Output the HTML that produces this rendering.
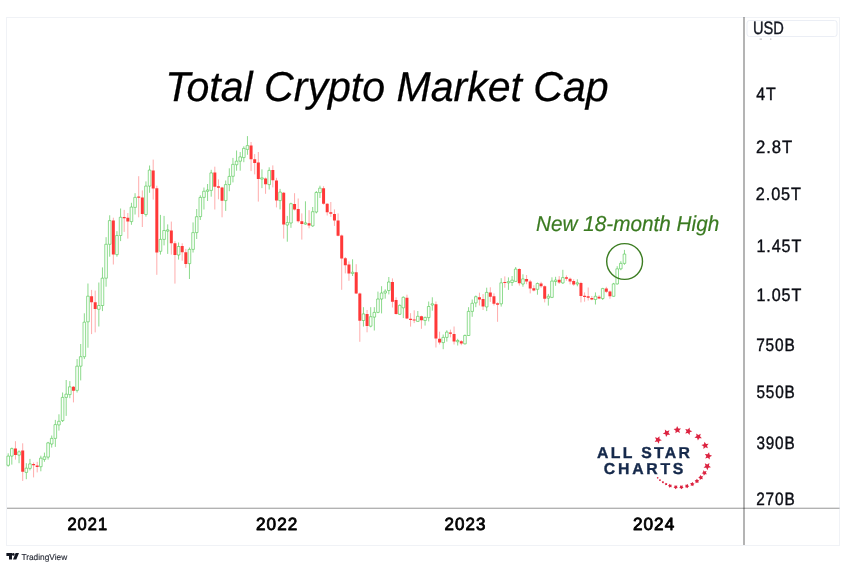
<!DOCTYPE html>
<html lang="en">
<head>
<meta charset="utf-8">
<title>Total Crypto Market Cap</title>
<style>
html,body{margin:0;padding:0;background:#fff;}
body{width:846px;height:568px;overflow:hidden;}
svg{display:block;}
text{font-family:"Liberation Sans",sans-serif;text-rendering:geometricPrecision;}
.title{font-style:italic;font-size:41.8px;fill:#000;stroke:#000;stroke-width:.25;}
.note{font-style:italic;font-size:21.6px;fill:#3a7a20;stroke:#3a7a20;stroke-width:.2;}
.yl{font-size:18px;fill:#0c0e15;stroke:#0c0e15;stroke-width:.4;letter-spacing:1px;}
.xl{font-size:17.7px;fill:#000;stroke:#000;stroke-width:.85;stroke-linejoin:round;letter-spacing:1.1px;}
.usd{font-size:18px;fill:#131722;stroke:#131722;stroke-width:.4;}
.tv{font-size:8.6px;fill:#2a2e39;stroke:#2a2e39;stroke-width:.15;}
.asc{font-size:15.8px;font-weight:bold;fill:#15294b;stroke:#15294b;stroke-width:.35;}
.gw{stroke:#3cc03c;stroke-width:.85;fill:none;opacity:.7;}
.gb{stroke:#3cc03c;stroke-width:.8;fill:#fbfffb;stroke-opacity:.7;}
.rw{stroke:#ff3232;stroke-width:.9;fill:none;opacity:.45;}
.rb{fill:#ff3838;}
.cd{filter:blur(.25px);}
</style>
</head>
<body>
<svg width="846" height="568" viewBox="0 0 846 568">
<rect width="846" height="568" fill="#fff"/>
<rect x="6.5" y="17.5" width="833" height="528" fill="#fff" stroke="#f0f2f6" stroke-width="1"/>

<g class="cd">
<path class="gw" d="M8.2 453.3V456.1M8.2 465.3V466.7M11.82 447.6V448.6M11.82 456.1V464.6M19.07 450.4V451.8M19.07 455.1V463.2M26.32 463.2V468.2M26.32 472.4V479.2M29.95 458.9V463.9M29.95 468.4V470.3M40.83 455.7V458.2M40.83 466.7V471.3M44.45 452.6V456.8M44.45 459.4V461.8M48.08 441.9V442.9M48.08 457.1V459.6M51.7 435.5V438.4M51.7 444V447.6M55.33 419.9V424.6M55.33 438.4V446.9M58.95 414.3V421.3M58.95 424.9V430.6M62.58 392.5V397.4M62.58 420.6V422M66.2 380V394.2M66.2 397.4V415.9M69.83 381.1V386.8M69.83 394.6V398.2M77.08 359.1V366.2M77.08 390.4V392.5M80.7 344V356.7M80.7 366.2V380.4M84.33 313.3V322.2M84.33 356.7V359.1M87.95 283.5V296.2M87.95 321.8V347.7M98.83 282.5V305.5M98.83 309.3V326.5M102.45 267.4V278.2M102.45 305.5V311.1M106.08 237.2V244.3M106.08 278.2V286.7M109.7 215.3V220.6M109.7 244.3V256.7M116.95 231.2V235.5M116.95 254.6V256.7M120.58 208.5V217.3M120.58 235.5V241.1M131.45 202.8V207.1M131.45 221.6V224.8M135.07 193.2V197.4M135.07 207.4V214.5M145.95 181.4V186.1M145.95 214.5V216.6M149.57 165.5V170.1M149.57 186.1V192.8M160.45 214.9V239.4M160.45 251.3V254.6M164.07 215.9V230.5M164.07 239.4V245.4M167.7 224.4V229.9M167.7 231.1V253.9M178.57 242.5V246.5M178.57 255V259.6M189.45 247.5V249.4M189.45 263.6V279M193.07 222.4V232.6M193.07 249.4V252.5M196.7 209V216.7M196.7 232.6V239M200.32 195.3V197.4M200.32 216.6V220M203.95 187.5V191.3M203.95 197.4V209.5M207.57 184V190M207.57 191.3V201M211.2 169.8V172.9M211.2 190.4V196.7M225.7 180.5V184.6M225.7 200.6V210.9M229.32 168.3V176.4M229.32 184.6V191.2M232.95 157.9V164.4M232.95 176.3V182.4M236.57 150.5V161.2M236.57 164.7V170.7M240.2 152V156.9M240.2 161.2V170.7M243.82 146.3V148.4M243.82 157.6V162.2M247.45 136.1V145.6M247.45 149.4V154.8M261.95 169.3V177.85M261.95 179.05V188.1M269.2 167.3V170.4M269.2 184.6V189.5M280.07 188.9V192.1M280.07 200.6V209.4M287.32 215.9V222.6M287.32 225V241.7M290.95 202.7V203.7M290.95 223V227.8M305.45 201.3V222.9M305.45 224.1V224.7M312.7 207V211.7M312.7 225.9V226.8M316.32 191V192.5M316.32 212V213.4M319.95 185.7V188.2M319.95 192.6V198M352.57 259.3V272.25M352.57 273.45V276M363.45 307.2V313.9M363.45 320.5V326.6M370.7 307.2V316.7M370.7 326.2V327.3M374.32 307.2V312.4M374.32 317.1V330.5M377.95 291.6V299M377.95 312.4V313.2M381.57 286.2V293M381.57 299V313.4M385.2 289.3V291.2M385.2 293V298.7M388.82 277V282M388.82 290.5V294.4M399.7 304.4V305.4M399.7 314.3V314.9M403.32 296.4V297.3M403.32 307.8V318.1M417.82 311V316.3M417.82 321.4V321.7M425.07 316.7V317.4M425.07 320.5V325.6M428.7 301.5V306.5M428.7 317.6V321.4M432.32 297.3V303.8M432.32 305V310.7M443.2 334.5V337.4M443.2 342.6V349.2M446.82 330.3V332.1M446.82 337.4V341.6M457.7 338.8V340.5M457.7 341.7V345.5M464.95 334.5V335.5M464.95 343.8V344.5M468.57 307.2V311.4M468.57 335.5V336M472.2 299.5V303.3M472.2 311.4V316.8M475.82 295.5V296.7M475.82 302.9V307.2M486.7 287.7V292.4M486.7 306.9V311.1M501.2 278.2V282.8M501.2 303.8V306.6M508.45 277.4V281.6M508.45 282.8V289.9M512.08 276V280.2M512.08 282.5V285.9M515.7 267V269.1M515.7 281.4V281.9M522.95 274.3V278.9M522.95 284V286.7M537.45 282.5V283.5M537.45 289.3V294.7M548.33 293.9V296.3M548.33 298.1V305.6M551.95 277.3V281.1M551.95 297.4V298.1M555.58 276.8V280.1M555.58 281.5V285.8M562.83 269.8V277.6M562.83 282.9V283.9M577.33 279.3V282.8M577.33 284V286.3M595.45 292.4V296.3M595.45 299.5V304.5M602.7 287.8V288.6M602.7 298.5V300M613.58 282.9V283.9M613.58 296.3V296.7M617.2 266.2V268.8M617.2 283.9V284.6M620.83 261.2V263.4M620.83 268.8V270.2M624.45 249.9V254.1M624.45 263.4V264.8"/>
<path class="gb" d="M6.9 456.1H9.5V465.3H6.9ZM10.52 448.6H13.12V456.1H10.52ZM17.77 451.8H20.38V455.1H17.77ZM25.02 468.2H27.62V472.4H25.02ZM28.65 463.9H31.25V468.4H28.65ZM39.53 458.2H42.12V466.7H39.53ZM43.15 456.8H45.75V459.4H43.15ZM46.78 442.9H49.38V457.1H46.78ZM50.4 438.4H53V444H50.4ZM54.03 424.6H56.62V438.4H54.03ZM57.65 421.3H60.25V424.9H57.65ZM61.28 397.4H63.88V420.6H61.28ZM64.9 394.2H67.5V397.4H64.9ZM68.53 386.8H71.12V394.6H68.53ZM75.78 366.2H78.38V390.4H75.78ZM79.4 356.7H82V366.2H79.4ZM83.03 322.2H85.62V356.7H83.03ZM86.65 296.2H89.25V321.8H86.65ZM97.53 305.5H100.12V309.3H97.53ZM101.15 278.2H103.75V305.5H101.15ZM104.78 244.3H107.38V278.2H104.78ZM108.4 220.6H111V244.3H108.4ZM115.65 235.5H118.25V254.6H115.65ZM119.28 217.3H121.88V235.5H119.28ZM130.15 207.1H132.75V221.6H130.15ZM133.77 197.4H136.38V207.4H133.77ZM144.65 186.1H147.25V214.5H144.65ZM148.27 170.1H150.88V186.1H148.27ZM159.15 239.4H161.75V251.3H159.15ZM162.77 230.5H165.38V239.4H162.77ZM166.4 229.9H169V231.1H166.4ZM177.27 246.5H179.88V255H177.27ZM188.15 249.4H190.75V263.6H188.15ZM191.77 232.6H194.38V249.4H191.77ZM195.4 216.7H198V232.6H195.4ZM199.02 197.4H201.62V216.6H199.02ZM202.65 191.3H205.25V197.4H202.65ZM206.27 190H208.88V191.3H206.27ZM209.9 172.9H212.5V190.4H209.9ZM224.4 184.6H227V200.6H224.4ZM228.02 176.4H230.62V184.6H228.02ZM231.65 164.4H234.25V176.3H231.65ZM235.27 161.2H237.88V164.7H235.27ZM238.9 156.9H241.5V161.2H238.9ZM242.52 148.4H245.12V157.6H242.52ZM246.15 145.6H248.75V149.4H246.15ZM260.65 177.85H263.25V179.05H260.65ZM267.9 170.4H270.5V184.6H267.9ZM278.77 192.1H281.38V200.6H278.77ZM286.02 222.6H288.62V225H286.02ZM289.65 203.7H292.25V223H289.65ZM304.15 222.9H306.75V224.1H304.15ZM311.4 211.7H314V225.9H311.4ZM315.02 192.5H317.62V212H315.02ZM318.65 188.2H321.25V192.6H318.65ZM351.27 272.25H353.88V273.45H351.27ZM362.15 313.9H364.75V320.5H362.15ZM369.4 316.7H372V326.2H369.4ZM373.02 312.4H375.62V317.1H373.02ZM376.65 299H379.25V312.4H376.65ZM380.27 293H382.88V299H380.27ZM383.9 291.2H386.5V293H383.9ZM387.52 282H390.12V290.5H387.52ZM398.4 305.4H401V314.3H398.4ZM402.02 297.3H404.62V307.8H402.02ZM416.52 316.3H419.12V321.4H416.52ZM423.77 317.4H426.38V320.5H423.77ZM427.4 306.5H430V317.6H427.4ZM431.02 303.8H433.62V305H431.02ZM441.9 337.4H444.5V342.6H441.9ZM445.52 332.1H448.12V337.4H445.52ZM456.4 340.5H459V341.7H456.4ZM463.65 335.5H466.25V343.8H463.65ZM467.27 311.4H469.88V335.5H467.27ZM470.9 303.3H473.5V311.4H470.9ZM474.52 296.7H477.12V302.9H474.52ZM485.4 292.4H488V306.9H485.4ZM499.9 282.8H502.5V303.8H499.9ZM507.15 281.6H509.75V282.8H507.15ZM510.78 280.2H513.38V282.5H510.78ZM514.4 269.1H517V281.4H514.4ZM521.65 278.9H524.25V284H521.65ZM536.15 283.5H538.75V289.3H536.15ZM547.03 296.3H549.62V298.1H547.03ZM550.65 281.1H553.25V297.4H550.65ZM554.28 280.1H556.88V281.5H554.28ZM561.53 277.6H564.12V282.9H561.53ZM576.03 282.8H578.62V284H576.03ZM594.15 296.3H596.75V299.5H594.15ZM601.4 288.6H604V298.5H601.4ZM612.28 283.9H614.88V296.3H612.28ZM615.9 268.8H618.5V283.9H615.9ZM619.53 263.4H622.12V268.8H619.53ZM623.15 254.1H625.75V263.4H623.15Z"/>
<path class="rw" d="M15.45 441.2V459.6M22.7 443.3V480.9M33.58 462.5V477.4M37.2 461.8V472.4M73.45 386V402.4M91.58 289.9V334.1M95.2 290.6V332.4M113.33 217.7V264.5M124.2 209.9V231.9M127.83 213V238.6M138.7 176.2V217.3M142.32 190.4V227M153.2 159.6V199.6M156.82 185.7V274.8M171.32 221.6V254.6M174.95 241.1V283.6M182.2 243.3V260.7M185.82 248.9V267.8M214.82 166.7V209.5M218.45 179.4V199.3M222.07 186.8V217.3M251.07 142V171.1M254.7 154.1V174.4M258.32 152V201.6M265.57 177.5V193.8M272.82 165.4V187.4M276.45 177.8V207.4M283.7 192V238.6M294.57 193.2V210.5M298.2 198.5V222.6M301.82 213.4V239.6M309.07 210.2V228.3M323.57 186.2V204.6M327.2 203.2V215.5M330.82 202V216.9M334.45 209.4V225.9M338.07 213.4V236.3M341.7 234.6V289.8M345.32 257V273.4M348.95 261.4V280.8M356.2 264.2V294M359.82 292.6V341.8M367.07 310V332.3M392.45 278.4V307.5M396.07 297.3V314.6M406.95 294.7V319.1M410.57 313.2V326.6M414.2 310.3V323.1M421.45 315.7V328.8M435.95 301.5V347.5M439.57 331.7V344.5M450.45 329.6V337.4M454.07 326.5V344.5M461.32 340.2V345.2M479.45 292.7V305.5M483.07 294.1V310M490.32 287.3V301.9M493.95 293.4V305.5M497.57 302.3V321.8M504.82 276.4V287.7M519.33 268.3V285.6M526.58 275V284.2M530.2 279.9V293.4M533.83 285.3V291.3M541.08 281.8V287.8M544.7 285.4V302.4M559.2 276.1V283.9M566.45 275.4V280.7M570.08 277.6V284.4M573.7 279.3V285.8M580.95 281.8V302.4M584.58 292.4V301.7M588.2 287.5V300.5M591.83 296V300.2M599.08 295.3V299.1M606.33 286.8V292.9M609.95 290.6V298.8"/>
<path class="rb" d="M13.95 448.6H16.95V455.1H13.95ZM21.2 450.4H24.2V471.7H21.2ZM32.08 463.9H35.08V465.3H32.08ZM35.7 465.6H38.7V467H35.7ZM71.95 386.8H74.95V390.8H71.95ZM90.08 296.2H93.08V302.3H90.08ZM93.7 302.3H96.7V309H93.7ZM111.83 220.6H114.83V254.6H111.83ZM122.7 217H125.7V218.2H122.7ZM126.33 217.7H129.32V221.6H126.33ZM137.2 196.6H140.2V197.8H137.2ZM140.82 197.4H143.82V214H140.82ZM151.7 170.5H154.7V188.5H151.7ZM155.32 188.2H158.32V252.6H155.32ZM169.82 230.5H172.82V243.3H169.82ZM173.45 243.3H176.45V255H173.45ZM180.7 246.1H183.7V252.2H180.7ZM184.32 252.2H187.32V264.1H184.32ZM213.32 172.6H216.32V186.8H213.32ZM216.95 186.2H219.95V187.7H216.95ZM220.57 187.5H223.57V200.8H220.57ZM249.57 145.6H252.57V159.3H249.57ZM253.2 159.3H256.2V163H253.2ZM256.82 162.6H259.82V178.9H256.82ZM264.07 178.6H267.07V184.3H264.07ZM271.32 170.1H274.32V180.3H271.32ZM274.95 180.6H277.95V200.6H274.95ZM282.2 192.8H285.2V224.4H282.2ZM293.07 204.1H296.07V209.4H293.07ZM296.7 209.1H299.7V221.2H296.7ZM300.32 221.2H303.32V224H300.32ZM307.57 223.3H310.57V225.4H307.57ZM322.07 188.2H325.07V203.7H322.07ZM325.7 203.7H328.7V212.2H325.7ZM329.32 212.2H332.32V213.7H329.32ZM332.95 214.1H335.95V220.5H332.95ZM336.57 220.5H339.57V235.8H336.57ZM340.2 235.4H343.2V258.5H340.2ZM343.82 258.3H346.82V265.2H343.82ZM347.45 264.6H350.45V273.4H347.45ZM354.7 272.3H357.7V293.6H354.7ZM358.32 293.6H361.32V320.8H358.32ZM365.57 313.9H368.57V325.9H365.57ZM390.95 282H393.95V301.8H390.95ZM394.57 300.1H397.57V313.9H394.57ZM405.45 297.8H408.45V318.5H405.45ZM409.07 318.8H412.07V320H409.07ZM412.7 319.4H415.7V320.6H412.7ZM419.95 316.3H422.95V320.2H419.95ZM434.45 304.3H437.45V338.4H434.45ZM438.07 338.8H441.07V342.6H438.07ZM448.95 332.4H451.95V333.8H448.95ZM452.57 334.1H455.57V341.6H452.57ZM459.82 341.2H462.82V343.5H459.82ZM477.95 297.2H480.95V299.5H477.95ZM481.57 299.1H484.57V306.6H481.57ZM488.82 292.4H491.82V296.7H488.82ZM492.45 296.2H495.45V303.8H492.45ZM496.07 303.3H499.07V304.8H496.07ZM503.32 281.9H506.32V283.1H503.32ZM517.83 268.9H520.83V283.2H517.83ZM525.08 279H528.08V281.4H525.08ZM528.7 281.5H531.7V288.6H528.7ZM532.33 288.2H535.33V290.4H532.33ZM539.58 283.5H542.58V286.3H539.58ZM543.2 286.3H546.2V298.8H543.2ZM557.7 279.7H560.7V282.5H557.7ZM564.95 277.3H567.95V278.7H564.95ZM568.58 278.7H571.58V281.5H568.58ZM572.2 281.1H575.2V284.6H572.2ZM579.45 282.9H582.45V296H579.45ZM583.08 295.7H586.08V297.1H583.08ZM586.7 296.3H589.7V297.7H586.7ZM590.33 298.1H593.33V299.5H590.33ZM597.58 296.7H600.58V298.5H597.58ZM604.83 288.6H607.83V291.7H604.83ZM608.45 291.5H611.45V296.3H608.45Z"/>
</g>
<rect x="743.05" y="17" width="1.9" height="528" fill="#000" fill-opacity=".31"/>
<rect x="7" y="507.62" width="832.5" height="1.38" fill="#000" fill-opacity=".3"/>
<rect x="747" y="20.5" width="90" height="16" rx="2.5" fill="#fff" stroke="#ebeef5" stroke-width="1"/>
<rect x="759.6" y="38.6" width="2.4" height="1" fill="#b9b9bd"/><rect x="770" y="38.6" width="1.4" height="1" fill="#b9b9bd"/>
<text class="usd" x="753.0" y="34.0" textLength="30.9" lengthAdjust="spacingAndGlyphs">USD</text>
<text class="yl" x="756.2" y="99.95" textLength="20.38" lengthAdjust="spacingAndGlyphs">4T</text>
<text class="yl" x="755.93" y="153.1" textLength="37.1" lengthAdjust="spacingAndGlyphs">2.8T</text>
<text class="yl" x="755.85" y="200.1" textLength="46.03" lengthAdjust="spacingAndGlyphs">2.05T</text>
<text class="yl" x="756.51" y="252" textLength="45.7" lengthAdjust="spacingAndGlyphs">1.45T</text>
<text class="yl" x="756.51" y="300.7" textLength="45.7" lengthAdjust="spacingAndGlyphs">1.05T</text>
<text class="yl" x="756.13" y="350.7" textLength="39.49" lengthAdjust="spacingAndGlyphs">750B</text>
<text class="yl" x="756.38" y="397.9" textLength="39.25" lengthAdjust="spacingAndGlyphs">550B</text>
<text class="yl" x="756.38" y="448.9" textLength="39.1" lengthAdjust="spacingAndGlyphs">390B</text>
<text class="yl" x="756.19" y="504.95" textLength="39.35" lengthAdjust="spacingAndGlyphs">270B</text>
<text class="xl" x="67.42" y="529.75" textLength="40.73" lengthAdjust="spacingAndGlyphs">2021</text>
<text class="xl" x="255.98" y="529.75" textLength="42.39" lengthAdjust="spacingAndGlyphs">2022</text>
<text class="xl" x="444.44" y="529.75" textLength="41.92" lengthAdjust="spacingAndGlyphs">2023</text>
<text class="xl" x="632.89" y="529.75" textLength="42.47" lengthAdjust="spacingAndGlyphs">2024</text>
<text class="title" x="165.2" y="100.6" textLength="443.5" lengthAdjust="spacingAndGlyphs">Total Crypto Market Cap</text>
<text class="note" x="536" y="230.7" textLength="183.2" lengthAdjust="spacingAndGlyphs">New 18-month High</text>
<circle cx="624.6" cy="261.5" r="17.9" fill="none" stroke="#3c7d22" stroke-width="1.4"/>
<text class="asc" x="597.0" y="458.0" textLength="93.0" lengthAdjust="spacing">ALL STAR</text>
<text class="asc" x="603.8" y="473.5" textLength="79.6" lengthAdjust="spacing">CHARTS</text>
<g fill="#dc2340">
<polygon points="655.02,437.35 657.56,438.1 659.48,436.29 659.55,438.93 661.87,440.2 659.38,441.08 658.89,443.68 657.28,441.58 654.66,441.92 656.16,439.74"/>
<polygon points="664.89,429.57 666.95,431.23 669.42,430.28 668.48,432.75 670.15,434.8 667.51,434.67 666.07,436.89 665.38,434.34 662.82,433.66 665.04,432.21"/>
<polygon points="677.09,426.1 678.36,428.43 681.01,428.49 679.19,430.42 679.94,432.95 677.55,431.82 675.37,433.32 675.71,430.7 673.61,429.09 676.21,428.6"/>
<polygon points="689.58,427.54 689.87,430.17 692.3,431.23 689.88,432.32 689.62,434.96 687.84,433 685.25,433.56 686.56,431.26 685.23,428.98 687.82,429.51"/>
<polygon points="700.76,433.75 700.02,436.29 701.84,438.21 699.2,438.28 697.94,440.61 697.05,438.12 694.45,437.64 696.54,436.02 696.19,433.4 698.38,434.89"/>
<polygon points="708.66,443.75 706.99,445.8 707.94,448.27 705.47,447.33 703.41,448.99 703.55,446.35 701.33,444.91 703.89,444.22 704.57,441.66 706.01,443.88"/>
<polygon points="712.08,455.67 709.76,456.95 709.72,459.6 707.78,457.79 705.25,458.57 706.37,456.17 704.85,454 707.47,454.32 709.07,452.21 709.57,454.8"/>
<polygon points="710.97,467.35 708.35,467.73 707.37,470.18 706.2,467.81 703.56,467.63 705.46,465.79 704.81,463.22 707.15,464.46 709.39,463.05 708.94,465.65"/>
<polygon points="706.92,474.35 705,474.21 703.81,475.72 703.34,473.85 701.53,473.18 703.17,472.16 703.25,470.23 704.72,471.47 706.58,470.95 705.86,472.74"/>
<polygon points="702.81,479.31 701.18,478.97 699.82,479.95 699.64,478.29 698.29,477.3 699.82,476.61 700.34,475.03 701.46,476.26 703.13,476.27 702.3,477.72"/>
<polygon points="698.43,483.08 697,482.61 695.6,483.14 695.61,481.65 694.67,480.48 696.1,480.03 696.92,478.77 697.79,479.99 699.24,480.38 698.35,481.58"/>
<polygon points="693.29,486.25 692.04,485.54 690.63,485.78 690.92,484.38 690.25,483.11 691.68,482.94 692.68,481.92 693.27,483.22 694.56,483.86 693.5,484.83"/>
<polygon points="687.52,488.29 686.46,487.43 685.11,487.35 685.6,486.09 685.26,484.77 686.61,484.84 687.76,484.11 688.11,485.43 689.15,486.29 688.01,487.03"/>
<polygon points="681.53,489.35 680.67,488.3 679.35,487.95 680.08,486.81 680.01,485.45 681.32,485.79 682.59,485.3 682.67,486.65 683.53,487.7 682.27,488.2"/>
<polygon points="675.43,489.3 674.78,488.11 673.56,487.51 674.5,486.53 674.69,485.19 675.92,485.77 677.25,485.54 677.07,486.89 677.71,488.09 676.37,488.33"/>
<polygon points="669.37,487.83 669,486.59 667.97,485.8 669.03,485.06 669.47,483.84 670.5,484.63 671.8,484.66 671.37,485.89 671.74,487.13 670.44,487.1"/>
<polygon points="665.43,485.34 665.2,484.54 664.71,483.86 665.4,483.4 665.89,482.72 666.55,483.24 667.34,483.49 667.05,484.28 667.06,485.11 666.22,485.08"/>
<polygon points="662.18,483.16 662.07,482.42 661.71,481.76 662.38,481.44 662.89,480.89 663.41,481.43 664.09,481.74 663.74,482.4 663.65,483.14 662.91,483.01"/>
<polygon points="659.23,480.91 659.17,480.3 658.99,479.7 659.55,479.45 660.06,479.09 660.47,479.56 660.97,479.93 660.66,480.46 660.46,481.05 659.86,480.92"/>
<polygon points="656.98,478.39 656.94,477.86 656.88,477.34 657.37,477.14 657.85,476.92 658.2,477.33 658.55,477.72 658.27,478.17 658.01,478.63 657.49,478.5"/>
</g>
<g fill="#131722"><path d="M6.4 553h5.6v6.4h-3v-3.5h-2.6z"/><circle cx="13.3" cy="554.4" r="1.35"/><path d="M15.6 553h3.4l-2.7 6.4h-3.3z"/></g>
<text class="tv" x="21.4" y="559.7" textLength="45.8" lengthAdjust="spacingAndGlyphs">TradingView</text>
</svg>
</body>
</html>
